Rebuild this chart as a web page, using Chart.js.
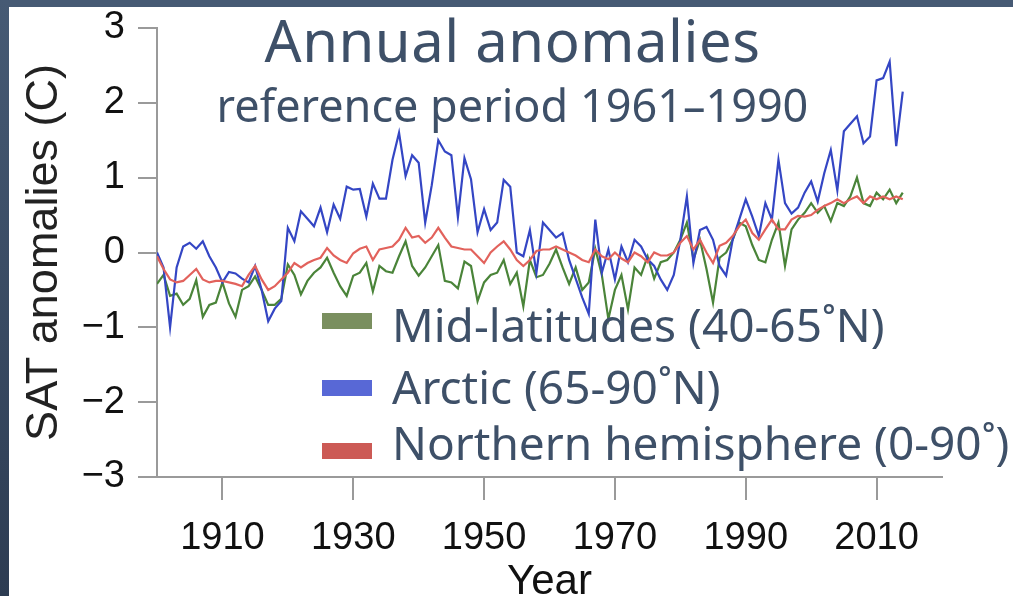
<!DOCTYPE html>
<html>
<head>
<meta charset="utf-8">
<script src="https://cdn.jsdelivr.net/npm/chart.js@4.4.1/dist/chart.umd.min.js"></script>
<style>
  html, body { margin: 0; padding: 0; }
  body { width: 1013px; height: 596px; overflow: hidden; background: #ffffff; position: relative; }
  #topbar { position: absolute; left: 0; top: 0; width: 1013px; height: 7px; background: #465a74; }
  #leftbar { position: absolute; left: 0; top: 0; width: 9px; height: 596px; background: linear-gradient(#465a74, #2d3c52); }
  #chart { position: absolute; left: 9px; top: 7px; }
  .title { position: absolute; left: 6px; width: 1013px; text-align: center; color: #3e5068; font-family: "Noto Sans", sans-serif; white-space: nowrap; }
  #title { top: 5px; font-size: 58px; line-height: 70px; letter-spacing: 0.5px; }
  #subtitle { top: 78px; font-size: 45px; line-height: 54px; }
  #legend { position: absolute; left: 322px; top: 0; font-family: "Noto Sans", sans-serif; color: #3e5068; }
  .lbl { position: absolute; left: 70px; white-space: nowrap; font-size: 46px; line-height: 54px; }
  .box { position: absolute; left: 0; width: 50px; height: 16px; }
</style>
</head>
<body>
<div id="topbar"></div>
<div id="leftbar"></div>
<canvas id="chart" width="1004" height="589"></canvas>
<div class="title" id="title">Annual anomalies</div>
<div class="title" id="subtitle">reference period 1961–1990</div>
<div id="legend"></div>
<script>
// years 1900..2014, one value per year
const firstYear = 1900;

const midLatitudes = [
  -0.42, -0.30, -0.58, -0.55, -0.70, -0.62, -0.37, -0.86, -0.70, -0.67,
  -0.40, -0.68, -0.86, -0.50, -0.45, -0.32, -0.50, -0.70, -0.70, -0.62,
  -0.16, -0.30, -0.56, -0.38, -0.27, -0.20, -0.07, -0.27, -0.45, -0.58,
  -0.31, -0.27, -0.14, -0.52, -0.18, -0.25, -0.27, -0.05, 0.15, -0.18,
  -0.31, -0.20, -0.05, 0.10, -0.38, -0.40, -0.48, -0.12, -0.18, -0.65,
  -0.40, -0.30, -0.27, -0.10, -0.42, -0.27, -0.72, -0.10, -0.33, -0.30,
  -0.15, 0.04, -0.20, -0.42, -0.20, -0.50, -0.40, 0.05, -0.30, -0.89,
  -0.50, -0.30, -0.76, -0.20, -0.30, -0.05, -0.35, -0.13, -0.10, 0.00,
  0.17, 0.40, -0.09, 0.17, -0.22, -0.67, -0.07, 0.00, 0.17, 0.40,
  0.35, 0.10, -0.10, -0.13, 0.17, 0.40, -0.18, 0.31, 0.44, 0.53,
  0.66, 0.53, 0.62, 0.42, 0.66, 0.62, 0.75, 1.00, 0.66, 0.62,
  0.80, 0.71, 0.84, 0.66, 0.80
];

const arctic = [
  0.00, -0.20, -1.00, -0.20, 0.08, 0.13, 0.05, 0.15, -0.05, -0.20,
  -0.40, -0.26, -0.28, -0.35, -0.40, -0.18, -0.50, -0.92, -0.75, -0.65,
  0.33, 0.15, 0.55, 0.45, 0.35, 0.60, 0.27, 0.64, 0.45, 0.88,
  0.84, 0.85, 0.48, 0.92, 0.72, 0.72, 1.24, 1.60, 1.02, 1.30,
  1.20, 0.40, 0.90, 1.50, 1.35, 1.30, 0.47, 1.26, 0.98, 0.27,
  0.58, 0.30, 0.40, 0.97, 0.88, 0.00, -0.05, 0.30, -0.27, 0.40,
  0.30, 0.20, 0.26, -0.10, -0.35, -0.60, -0.82, 0.44, -0.27, 0.04,
  -0.36, 0.08, -0.13, 0.17, 0.08, -0.09, -0.18, -0.36, -0.50, -0.30,
  0.17, 0.75, -0.14, 0.30, 0.34, 0.17, -0.18, -0.31, 0.17, 0.44,
  0.71, 0.48, 0.22, 0.66, 0.44, 1.24, 0.66, 0.52, 0.60, 0.80,
  0.95, 0.68, 1.06, 1.37, 0.83, 1.62, 1.72, 1.82, 1.46, 1.55,
  2.30, 2.33, 2.55, 1.42, 2.15
];

const northernHemisphere = [
  -0.05, -0.22, -0.36, -0.40, -0.38, -0.30, -0.22, -0.36, -0.40, -0.38,
  -0.38, -0.40, -0.42, -0.45, -0.30, -0.18, -0.36, -0.50, -0.45, -0.36,
  -0.27, -0.14, -0.20, -0.14, -0.10, -0.07, 0.06, -0.04, -0.10, -0.14,
  -0.01, 0.05, 0.08, -0.10, 0.04, 0.06, 0.08, 0.17, 0.33, 0.20,
  0.22, 0.13, 0.20, 0.33, 0.20, 0.08, 0.06, 0.04, 0.04, -0.05,
  -0.14, 0.00, 0.08, 0.15, 0.04, -0.10, -0.18, -0.10, 0.02, 0.04,
  0.04, 0.08, 0.04, 0.00, -0.04, -0.10, -0.13, 0.04, -0.05, -0.09,
  0.00, -0.08, -0.13, 0.00, -0.05, -0.13, 0.00, -0.04, -0.04, 0.00,
  0.13, 0.22, 0.04, 0.17, 0.00, -0.14, 0.09, 0.13, 0.22, 0.35,
  0.44, 0.26, 0.17, 0.31, 0.44, 0.31, 0.31, 0.44, 0.49, 0.48,
  0.50, 0.57, 0.62, 0.66, 0.71, 0.66, 0.71, 0.75, 0.66, 0.75,
  0.71, 0.75, 0.71, 0.75, 0.71
];

const seriesLabels = ["Mid-latitudes (40-65˚N)", "Arctic (65-90˚N)", "Northern hemisphere (0-90˚)"];
const xTicks = [1910, 1930, 1950, 1970, 1990, 2010];
const yTicks = [-3, -2, -1, 0, 1, 2, 3];

function toPoints(values) {
    return values.map((v, i) => ({ x: firstYear + i, y: v }));
}

const tickFont = { family: "'Liberation Sans', Arial, sans-serif", size: 38, lineHeight: 1 };
const axisGray = "#9a9a9a";

const ctx = document.getElementById("chart").getContext("2d");

const chart = new Chart(ctx, {
    type: "line",
    data: {
        datasets: [
            {
                label: seriesLabels[0],
                data: toPoints(midLatitudes),
                borderColor: "#4a8439",
                legendColor: "#7a8f5f",
                order: 3,
            },
            {
                label: seriesLabels[1],
                data: toPoints(arctic),
                borderColor: "#3446c4",
                legendColor: "#5868d6",
                order: 2,
            },
            {
                label: seriesLabels[2],
                data: toPoints(northernHemisphere),
                borderColor: "#e2625c",
                legendColor: "#cc5a55",
                order: 1,
            },
        ],
    },
    options: {
        responsive: false,
        animation: false,
        devicePixelRatio: 1,
        layout: {
            padding: { left: 0, top: 21, right: 71, bottom: 0 },
        },
        elements: {
            point: { radius: 0 },
            line: { borderWidth: 2.2, tension: 0 },
        },
        scales: {
            x: {
                type: "linear",
                min: 1900,
                max: 2020,
                afterBuildTicks: (axis) => {
                    axis.ticks = xTicks.map((v) => ({ value: v }));
                },
                afterFit: (scale) => {
                    scale.height = 119;
                    scale.paddingLeft = 0;
                    scale.paddingRight = 0;
                },
                border: { color: axisGray, width: 2 },
                grid: { drawOnChartArea: false, drawTicks: true, tickLength: 23, color: axisGray, lineWidth: 2 },
                ticks: {
                    font: tickFont,
                    color: "#111",
                    padding: 20,
                    maxRotation: 0,
                    callback: (value) => String(value),
                },
                title: {
                    display: true,
                    text: "Year",
                    color: "#111",
                    font: { family: "'Liberation Sans', Arial, sans-serif", size: 42, lineHeight: 1 },
                    padding: { top: 0, bottom: -7 },
                },
            },
            y: {
                min: -3,
                max: 3,
                afterBuildTicks: (axis) => {
                    axis.ticks = yTicks.map((v) => ({ value: v }));
                },
                afterFit: (scale) => {
                    scale.width = 148;
                    scale.paddingTop = 0;
                    scale.paddingBottom = 0;
                },
                border: { color: axisGray, width: 2 },
                grid: { drawOnChartArea: false, drawTicks: true, tickLength: 19, color: axisGray, lineWidth: 2 },
                ticks: {
                    font: tickFont,
                    color: "#111",
                    padding: 13,
                    callback: (value) => (value < 0 ? "\u2212" + Math.abs(value) : String(value)),
                },
                title: {
                    display: true,
                    text: "SAT anomalies (C)",
                    color: "#222",
                    font: { family: "'Liberation Sans', Arial, sans-serif", size: 45, lineHeight: 1.2 },
                    padding: { top: 9, bottom: 0 },
                },
            },
        },
        plugins: {
            legend: { display: false },
            tooltip: { enabled: false },
        },
    },
});

// legend drawn over the plot, built from the datasets
const legendEl = document.getElementById("legend");
const textTops = [297, 359, 415];
const boxTops = [313, 380, 443];
legendEl.innerHTML = chart.data.datasets
    .map(
        (ds, i) => `
    <div class="box" style="top:${boxTops[i]}px;background:${ds.legendColor}"></div>
    <div class="lbl" style="top:${textTops[i]}px">${ds.label}</div>`
    )
    .join("");
</script>
</body>
</html>
